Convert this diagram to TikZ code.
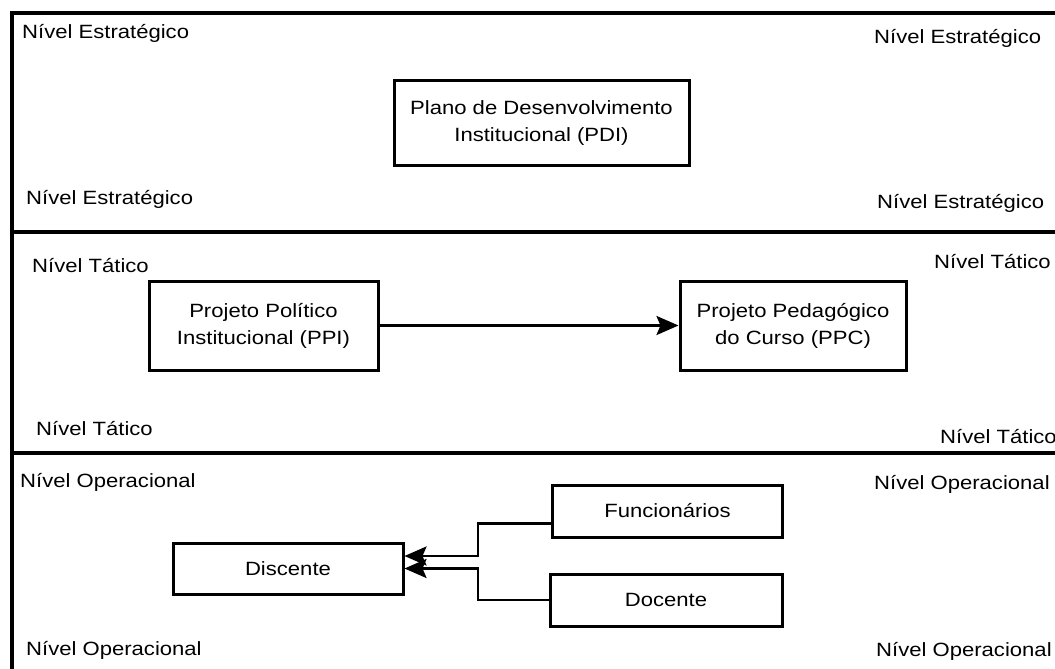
\documentclass[tikz,border=0pt]{standalone}
\usepackage{fontspec}
\setmainfont{Liberation Sans}[FakeStretch=1.15]
\usetikzlibrary{arrows.meta,calc}
\begin{document}
\begin{tikzpicture}[x=1pt,y=-1pt,
  lvl/.style={anchor=base west,inner sep=0pt,font=\fontsize{19.2}{27}\selectfont},
  box/.style={draw,line width=3pt,align=center,inner sep=0pt,font=\fontsize{19.2}{27}\selectfont},
  conn/.style={line width=2.6pt},
  arr/.style={conn,-{Stealth[length=22pt,width=19pt,inset=4pt]}}]
\useasboundingbox (0,0) rectangle (1055,669);
\begin{scope}
\clip (0,0) rectangle (1055,669);
\draw[line width=3.4pt] (12,700) -- (12,13) -- (1070,13);
\draw[line width=3.4pt] (12,232) -- (1070,232);
\draw[line width=3.4pt] (12,453) -- (1070,453);
\end{scope}
% level labels
\node[lvl] (l1) at (22,39) {Nível Estratégico};
\node[lvl] (l2) at (874,44) {Nível Estratégico};
\node[lvl] (l3) at (26,204) {Nível Estratégico};
\node[lvl] (l4) at (877,208) {Nível Estratégico};
\node[lvl] (l5) at (32,272) {Nível Tático};
\node[lvl] (l6) at (934,268) {Nível Tático};
\node[lvl] (l7) at (36,435) {Nível Tático};
\node[lvl] (l8) at (940,443) {Nível Tático};
\node[lvl] (l9) at (20,487) {Nível Operacional};
\node[lvl] (l10) at (874,489) {Nível Operacional};
\node[lvl] (l11) at (26,655) {Nível Operacional};
\node[lvl] (l12) at (876,656) {Nível Operacional};
% boxes
\node[box,minimum width=295pt,minimum height=84pt] (pdi) at (541.5,123) {Plano de Desenvolvimento\\Institucional (PDI)};
\node[box,minimum width=229pt,minimum height=89pt] (ppi) at (263.5,325.5) {Projeto Político\\Institucional (PPI)};
\node[box,minimum width=226pt,minimum height=89pt] (ppc) at (793,325.5) {Projeto Pedagógico\\do Curso (PPC)};
\node[box,minimum width=230pt,minimum height=51pt] (dis) at (288,568.5) {Discente};
\node[box,minimum width=230pt,minimum height=52pt] (fun) at (667.5,511) {Funcionários};
\node[box,minimum width=232pt,minimum height=52pt] (doc) at (666,600) {Docente};
% connectors
\draw[arr] (ppi.east) -- (ppc.west);
\coordinate (fa) at ($(fun.west)+(0,12.5)$);
\coordinate (da) at ($(dis.east)+(0,-12.5)$);
\draw[arr] (fa) -- (fa -| 478,0) -- (da -| 478,0) -- (da);
\draw[arr] (doc.west) -- (doc.west -| 478,0) -- (dis.east -| 478,0) -- (dis.east);
\end{tikzpicture}
\end{document}
